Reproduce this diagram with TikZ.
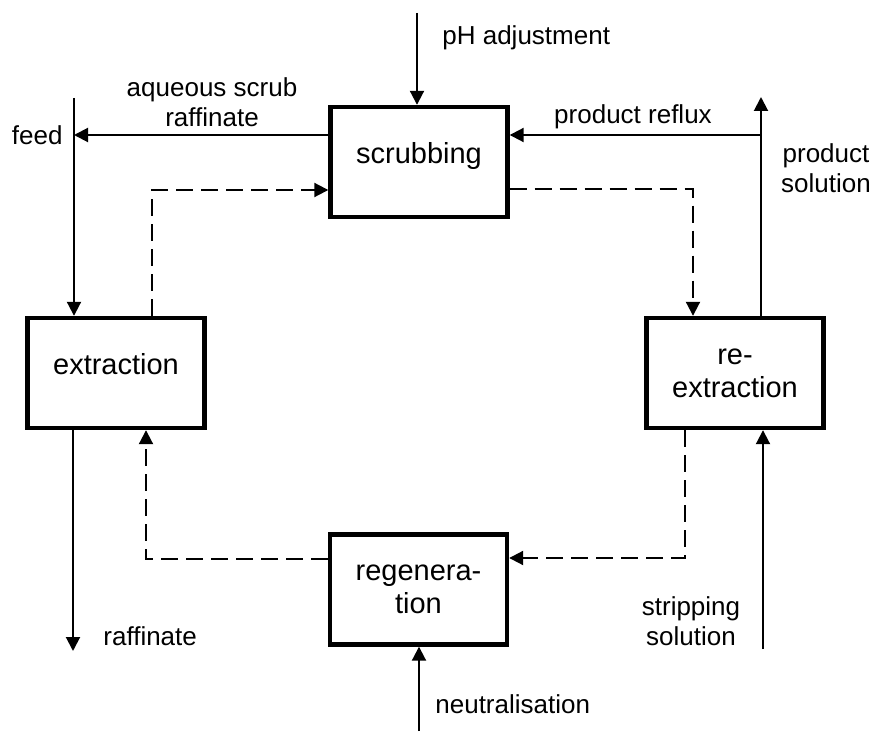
\documentclass[tikz,border=0pt]{standalone}
\usepackage{fontspec}
\setmainfont{Liberation Sans}
\usetikzlibrary{arrows.meta}

\tikzset{
  stage/.style={draw, line width=2.2pt, minimum width=88.5pt, minimum height=55pt,
    align=center, inner sep=0pt, font=\fontsize{14.5}{16.5}\selectfont},
  flow/.style={line width=1pt, -{Triangle[length=7pt,width=7pt]}},
  loop/.style={flow, dash pattern=on 8.5pt off 4pt},
  plain/.style={line width=1pt},
  txt/.style={inner sep=0pt, align=center, font=\fontsize{13}{15}\selectfont}
}

\begin{document}
\begin{tikzpicture}[x=0.5pt,y=-0.5pt]
\useasboundingbox (0,0) rectangle (874,733);

% the four stages
\node[stage] (scrub) at (419,162) [text depth=9pt] {scrubbing};
\node[stage] (extr) at (116,373) [text depth=9pt] {extraction};
\node[stage] (reextr) at (735,373) {re-\\extraction};
\node[stage] (regen) at (418.5,589.5) {regenera-\\tion};

% free ends
\coordinate (phtop) at (417,13);
\coordinate (feedtop) at (74,98);
\coordinate (prodtop) at (761,97);
\coordinate (raffend) at (73,651);
\coordinate (stripend) at (763,649);
\coordinate (neutend) at (419,731);
\coordinate (scrubin) at ([yshift=13.5pt]scrub.west);
\coordinate (refluxin) at ([yshift=13.5pt]scrub.east);

% aqueous streams
\draw[flow] (phtop) -- (phtop |- scrub.north);
\draw[plain] (feedtop) -- (feedtop |- scrubin);
\draw[flow] (feedtop |- scrubin) -- (feedtop |- extr.north);
\draw[flow] (scrubin) -- (scrubin -| feedtop);
\draw[flow] ([xshift=-21.5pt]extr.south) -- (raffend);
\draw[flow] ([xshift=13pt]reextr.north) -- (prodtop);
\draw[flow] (refluxin -| prodtop) -- (refluxin);
\draw[flow] (stripend) -- (stripend |- reextr.south);
\draw[flow] (neutend) -- (neutend |- regen.south);

% organic phase (dashed loop)
\draw[loop] ([xshift=18pt]extr.north) |- ([yshift=-14pt]scrub.west);
\draw[loop] ([yshift=-13.5pt]scrub.east) -| ([xshift=-21pt]reextr.north);
\draw[loop] ([xshift=-25pt]reextr.south) |- ([yshift=15.75pt]regen.east);
\draw[loop] ([yshift=15.25pt]regen.west) -| ([xshift=15pt]extr.south);

% labels
\node[txt, anchor=base west] (phlbl) at (442,45) {pH adjustment};
\node[txt, anchor=north] (aqlbl) at (212,77) {aqueous scrub\\raffinate};
\node[txt, anchor=base east] (feedlbl) at (63,145) {feed};
\node[txt, anchor=base] (refluxlbl) at (633,124) {product reflux};
\node[txt, anchor=north] (prodlbl) at (826,143) {product\\solution};
\node[txt, anchor=north] (striplbl) at (691,596) {stripping\\solution};
\node[txt, anchor=base west] (rafflbl) at (103,645) {raffinate};
\node[txt, anchor=base west] (neutlbl) at (435,713) {neutralisation};
\end{tikzpicture}
\end{document}
